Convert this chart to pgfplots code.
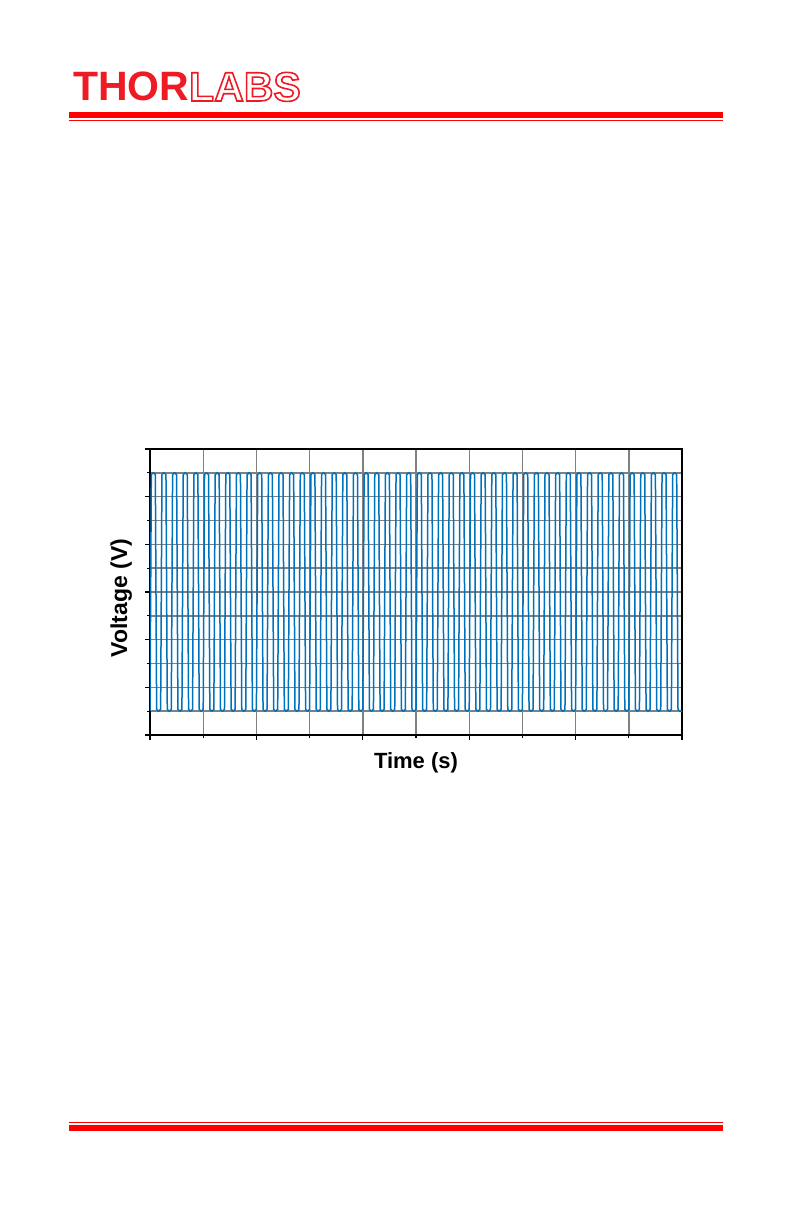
\documentclass[border=0pt]{standalone}
\usepackage{fontspec}
\setmainfont{Liberation Sans}
\usepackage{pgfplots}
\pgfplotsset{compat=1.18}
\definecolor{logored}{RGB}{237,28,36}
\definecolor{linered}{RGB}{255,0,0}
\definecolor{wave}{RGB}{0,114,189}
\definecolor{gridgray}{RGB}{128,128,128}
\begin{document}
\begin{tikzpicture}
\fill[white] (0,0) rectangle (396.5pt,612.5pt);
\node[anchor=base west, inner sep=0pt, font=\bfseries\fontsize{20.5}{22}\selectfont] at (36.3pt,562pt) {\textcolor{logored}{THOR}\special{pdf:literal direct 1 Tr 0.8 w 0.929 0.11 0.141 RG}LABS\special{pdf:literal direct 0 Tr}};
\fill[linered] (34.35pt,553.5pt) rectangle (361.35pt,556.5pt);
\draw[linered, line width=0.7pt] (34.35pt,552.35pt) -- (361.35pt,552.35pt);
\draw[linered, line width=0.6pt] (34.35pt,51.2pt) -- (361.35pt,51.2pt);
\fill[linered] (34.35pt,47pt) rectangle (361.35pt,50pt);
\begin{axis}[
  at={(75pt,245pt)}, anchor=south west,
  scale only axis, width=266pt, height=143pt,
  xmin=0, xmax=10, ymin=-6, ymax=6,
  xtick={0,2,...,10}, minor xtick={1,3,...,9},
  ytick={-6,-4,...,6}, minor ytick={-5,-3,...,5},
  xticklabels={}, yticklabels={},
  xtick pos=bottom, ytick pos=left,
  tick align=outside,
  major tick length=2.5pt, minor tick length=1.4pt,
  every tick/.style={black, line width=0.6pt},
  grid=both,
  major grid style={gridgray, line width=0.7pt},
  minor grid style={gridgray, line width=0.7pt},
  axis line style={black, line width=0.9pt},
  xlabel={Time (s)},
  xlabel style={font=\bfseries\fontsize{11}{13}\selectfont, at={(axis description cs:0.5,0)}, anchor=base, yshift=-17pt},
]
\addplot[wave, line width=0.75pt, line join=round, rounded corners=0.9pt] coordinates {
(0.0,-5)(0.025,5)(0.1,5)(0.125,-5)(0.2,-5)(0.225,5)(0.3,5)(0.325,-5)(0.4,-5)(0.425,5)(0.5,5)(0.525,-5)(0.6,-5)(0.625,5)(0.7,5)(0.725,-5)(0.8,-5)(0.825,5)(0.9,5)(0.925,-5)
(1.0,-5)(1.025,5)(1.1,5)(1.125,-5)(1.2,-5)(1.225,5)(1.3,5)(1.325,-5)(1.4,-5)(1.425,5)(1.5,5)(1.525,-5)(1.6,-5)(1.625,5)(1.7,5)(1.725,-5)(1.8,-5)(1.825,5)(1.9,5)(1.925,-5)
(2.0,-5)(2.025,5)(2.1,5)(2.125,-5)(2.2,-5)(2.225,5)(2.3,5)(2.325,-5)(2.4,-5)(2.425,5)(2.5,5)(2.525,-5)(2.6,-5)(2.625,5)(2.7,5)(2.725,-5)(2.8,-5)(2.825,5)(2.9,5)(2.925,-5)
(3.0,-5)(3.025,5)(3.1,5)(3.125,-5)(3.2,-5)(3.225,5)(3.3,5)(3.325,-5)(3.4,-5)(3.425,5)(3.5,5)(3.525,-5)(3.6,-5)(3.625,5)(3.7,5)(3.725,-5)(3.8,-5)(3.825,5)(3.9,5)(3.925,-5)
(4.0,-5)(4.025,5)(4.1,5)(4.125,-5)(4.2,-5)(4.225,5)(4.3,5)(4.325,-5)(4.4,-5)(4.425,5)(4.5,5)(4.525,-5)(4.6,-5)(4.625,5)(4.7,5)(4.725,-5)(4.8,-5)(4.825,5)(4.9,5)(4.925,-5)
(5.0,-5)(5.025,5)(5.1,5)(5.125,-5)(5.2,-5)(5.225,5)(5.3,5)(5.325,-5)(5.4,-5)(5.425,5)(5.5,5)(5.525,-5)(5.6,-5)(5.625,5)(5.7,5)(5.725,-5)(5.8,-5)(5.825,5)(5.9,5)(5.925,-5)
(6.0,-5)(6.025,5)(6.1,5)(6.125,-5)(6.2,-5)(6.225,5)(6.3,5)(6.325,-5)(6.4,-5)(6.425,5)(6.5,5)(6.525,-5)(6.6,-5)(6.625,5)(6.7,5)(6.725,-5)(6.8,-5)(6.825,5)(6.9,5)(6.925,-5)
(7.0,-5)(7.025,5)(7.1,5)(7.125,-5)(7.2,-5)(7.225,5)(7.3,5)(7.325,-5)(7.4,-5)(7.425,5)(7.5,5)(7.525,-5)(7.6,-5)(7.625,5)(7.7,5)(7.725,-5)(7.8,-5)(7.825,5)(7.9,5)(7.925,-5)
(8.0,-5)(8.025,5)(8.1,5)(8.125,-5)(8.2,-5)(8.225,5)(8.3,5)(8.325,-5)(8.4,-5)(8.425,5)(8.5,5)(8.525,-5)(8.6,-5)(8.625,5)(8.7,5)(8.725,-5)(8.8,-5)(8.825,5)(8.9,5)(8.925,-5)
(9.0,-5)(9.025,5)(9.1,5)(9.125,-5)(9.2,-5)(9.225,5)(9.3,5)(9.325,-5)(9.4,-5)(9.425,5)(9.5,5)(9.525,-5)(9.6,-5)(9.625,5)(9.7,5)(9.725,-5)(9.8,-5)(9.825,5)(9.9,5)(9.925,-5)
(10.0,-5)
};
\end{axis}
\node[rotate=90, anchor=base, inner sep=0pt, font=\bfseries\fontsize{11.5}{13}\selectfont] at (63.5pt,313.5pt) {Voltage (V)};
\end{tikzpicture}
\end{document}
